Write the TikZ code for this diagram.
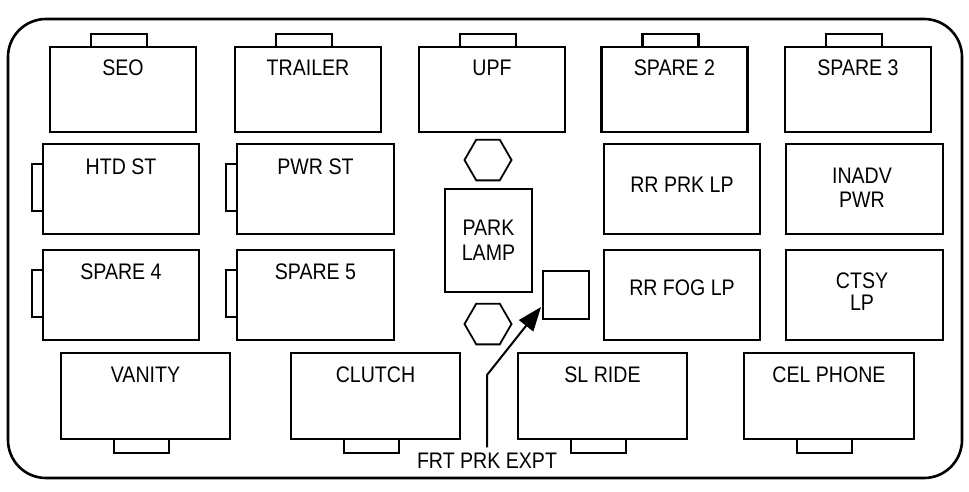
\documentclass[tikz,border=0pt]{standalone}
\usepackage{fontspec}
\setmainfont{Liberation Sans}[FakeStretch=0.87]
\usetikzlibrary{arrows.meta,shapes.geometric}
\begin{document}
\begin{tikzpicture}[x=1pt,y=-1pt,
  box/.style={draw, line width=2.4pt, rectangle, inner sep=0pt},
  tab/.style={draw, line width=2.4pt},
  lbl/.style={anchor=base, inner sep=0pt, font=\fontsize{22.5}{26}\selectfont},
  hex/.style={draw, line width=1.8pt, regular polygon, regular polygon sides=6, minimum size=47pt, inner sep=0pt}]
\useasboundingbox (0,0) rectangle (969,491);
% outer frame
\draw[line width=2.6pt, rounded corners=38pt] (8,19) rectangle (962,478);
% row 1
\foreach \n/\cx/\t in {seo/123/SEO, trailer/308/TRAILER, upf/492/UPF, spareii/674.5/SPARE 2, spareiii/858/SPARE 3}{
  \node[box, minimum width=146pt, minimum height=85pt] (\n) at (\cx,89.5) {};
  \draw[tab] ([xshift=42pt]\n.north west) -- ++(0,-12) -- ++(56,0) -- ++(0,12);
  \node[lbl] (\n-t) at (\cx,75) {\t};
}
% row 2 and 3 left
\foreach \n/\cx/\w/\cy in {htd/121/156/189, pwr/315.5/157/189, spareiv/121/156/295, sparev/315.5/157/295}{
  \node[box, minimum width=\w pt, minimum height=90pt] (\n) at (\cx,\cy) {};
  \draw[tab] ([yshift=-21pt]\n.north west) -- ++(-10,0) -- ++(0,47) -- ++(10,0);
}
\node[lbl] (htd-t) at (121,174) {HTD ST};
\node[lbl] (pwr-t) at (315.5,174) {PWR ST};
\node[lbl] (spareiv-t) at (121,279) {SPARE 4};
\node[lbl] (sparev-t) at (315.5,279) {SPARE 5};
% row 2 and 3 right
\node[box, minimum width=156pt, minimum height=90pt] (rrprk) at (682,189) {};
\node[lbl] (rrprk-t) at (682,192) {RR PRK LP};
\node[box, minimum width=157pt, minimum height=90pt] (inadv) at (864.5,189) {};
\node[lbl] (inadv-t) at (862,183) {INADV};
\node[lbl] (inadv-t2) at (862,207) {PWR};
\node[box, minimum width=156pt, minimum height=90pt] (rrfog) at (682,295) {};
\node[lbl] (rrfog-t) at (682,295) {RR FOG LP};
\node[box, minimum width=157pt, minimum height=90pt] (ctsy) at (864.5,295) {};
\node[lbl] (ctsy-t) at (862,288) {CTSY};
\node[lbl] (ctsy-t2) at (862,310) {LP};
% row 4
\foreach \n/\cx/\w/\t in {vanity/145.5/169/VANITY, clutch/375.5/169/CLUTCH, slride/602.5/169/SL RIDE, cel/829/170/CEL PHONE}{
  \node[box, minimum width=\w pt, minimum height=86pt] (\n) at (\cx,396) {};
  \draw[tab] ([xshift=54pt]\n.south west) -- ++(0,13) -- ++(55,0) -- ++(0,-13);
  \node[lbl] (\n-t) at (\cx,382) {\t};
}
% middle
\node[hex] (hexa) at (488,160) {};
\node[hex] (hexb) at (488,324) {};
\node[box, minimum width=87pt, minimum height=103pt] (park) at (488.5,240.5) {};
\node[lbl] (park-t) at (488.5,235) {PARK};
\node[lbl] (park-t2) at (488.5,260) {LAMP};
\node[box, line width=2pt, minimum width=46pt, minimum height=48pt] (sq) at (566,295) {};
% callout
\node[lbl] (frt) at (487,468) {FRT PRK EXPT};
\coordinate (bend) at (487,375);
\coordinate (tip) at (541,307);
\draw[line width=2pt, -{Triangle[length=24pt,width=18pt]}] ([yshift=5pt]frt.north) -- (bend) -- (tip);
\end{tikzpicture}
\end{document}
